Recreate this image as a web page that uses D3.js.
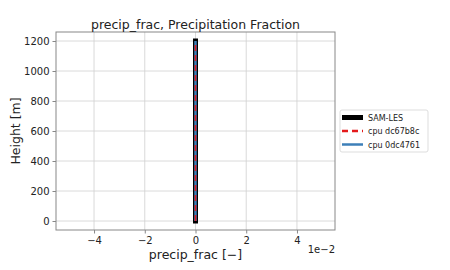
<!DOCTYPE html>
<html>
<head>
<meta charset="utf-8">
<script src="https://cdn.jsdelivr.net/npm/d3@7"></script>
<style>
  body { margin: 0; background: #fff; }
  text { font-family: "DejaVu Sans", sans-serif; fill: #222; }
</style>
</head>
<body>
<div id="chart"></div>
<script>
// heights [m] and precip fraction values (x 1e-2)
const heights = [0, 100, 200, 300, 400, 500, 600, 700, 800, 900, 1000, 1100, 1200];
const samLes = [0, 0, 0, 0, 0, 0, 0, 0, 0, 0, 0, 0, 0];
const cpuDc67 = [0, 0, 0, 0, 0, 0, 0, 0, 0, 0, 0, 0, 0];
const cpu0dc4 = [0, 0, 0, 0, 0, 0, 0, 0, 0, 0, 0, 0, 0];
const xTicks = [-4, -2, 0, 2, 4];
const yTicks = [0, 200, 400, 600, 800, 1000, 1200];

const width = 450, height = 270;
const margin = { top: 32, right: 115, bottom: 40, left: 56 };

const svg = d3.select("#chart").append("svg")
    .attr("width", width)
    .attr("height", height);

const x = d3.scaleLinear().domain([-5.5, 5.5]).range([margin.left, width - margin.right]);
const y = d3.scaleLinear().domain([-60, 1260]).range([height - margin.bottom, margin.top]);

// grid
svg.append("g").selectAll("line").data(xTicks).join("line")
    .attr("x1", d => x(d)).attr("x2", d => x(d))
    .attr("y1", margin.top).attr("y2", height - margin.bottom)
    .attr("stroke", "#d0d0d0").attr("stroke-width", 0.8);
svg.append("g").selectAll("line").data(yTicks).join("line")
    .attr("y1", d => y(d)).attr("y2", d => y(d))
    .attr("x1", margin.left).attr("x2", width - margin.right)
    .attr("stroke", "#d0d0d0").attr("stroke-width", 0.8);

// axes
const xAxis = svg.append("g")
    .attr("transform", `translate(0,${height - margin.bottom})`)
    .call(d3.axisBottom(x).tickValues(xTicks).tickSize(3.5).tickPadding(3)
        .tickFormat(d => d3.format("d")(d).replace("-", "\u2212")));
const yAxis = svg.append("g")
    .attr("transform", `translate(${margin.left},0)`)
    .call(d3.axisLeft(y).tickValues(yTicks).tickSize(3.5).tickPadding(3)
        .tickFormat(d3.format("d")));
[xAxis, yAxis].forEach(a => {
    a.select(".domain").remove();
    a.selectAll("line").attr("stroke", "#888");
    a.selectAll("text").style("font-size", "10px").attr("fill", "#222");
});

// frame
svg.append("rect")
    .attr("x", margin.left).attr("y", margin.top)
    .attr("width", width - margin.right - margin.left)
    .attr("height", height - margin.bottom - margin.top)
    .attr("fill", "none").attr("stroke", "#888").attr("stroke-width", 1);

// lines
const series = [
    { name: "SAM-LES", values: samLes, color: "#000", w: 5, dash: null, cap: "square" },
    { name: "cpu 0dc4761", values: cpu0dc4, color: "#3d7fb8", w: 2.5, dash: null, cap: "butt" },
    { name: "cpu dc67b8c", values: cpuDc67, color: "#e41a1c", w: 1.5, dash: "6,4", cap: "butt" }
];
const line = d3.line().x(d => x(d[0])).y(d => y(d[1]));
series.forEach(s => {
    svg.append("path")
        .datum(s.values.map((v, i) => [v, heights[i]]))
        .attr("d", line)
        .attr("fill", "none")
        .attr("stroke", s.color)
        .attr("stroke-width", s.w)
        .attr("stroke-linecap", s.cap)
        .attr("stroke-dasharray", s.dash);
});

// title & labels
svg.append("text")
    .attr("x", (margin.left + width - margin.right) / 2).attr("y", 29)
    .attr("text-anchor", "middle").style("font-size", "12.5px")
    .text("precip_frac, Precipitation Fraction");
svg.append("text")
    .attr("x", (margin.left + width - margin.right) / 2).attr("y", 259)
    .attr("text-anchor", "middle").style("font-size", "12.5px")
    .text("precip_frac [\u2212]");
svg.append("text")
    .attr("transform", `translate(20,${(margin.top + height - margin.bottom) / 2}) rotate(-90)`)
    .attr("text-anchor", "middle").style("font-size", "12.5px")
    .text("Height [m]");
svg.append("text")
    .attr("x", width - margin.right).attr("y", 253)
    .attr("text-anchor", "end").style("font-size", "10px")
    .text("1e\u22122");

// legend
const legendOrder = [series[0], series[2], series[1]];
const lg = svg.append("g").attr("transform", "translate(340,110)");
lg.append("rect").attr("width", 88).attr("height", 42).attr("rx", 2)
    .attr("fill", "#fff").attr("stroke", "#ddd");
legendOrder.forEach((s, i) => {
    const yy = 7.5 + i * 13.5;
    lg.append("line")
        .attr("x1", 2).attr("x2", 23).attr("y1", yy).attr("y2", yy)
        .attr("stroke", s.color)
        .attr("stroke-width", s.name === "SAM-LES" ? 5 : 2.5)
        .attr("stroke-dasharray", s.dash);
    lg.append("text").attr("x", 28).attr("y", yy + 3)
        .style("font-size", "8px").text(s.name);
});
</script>
</body>
</html>
